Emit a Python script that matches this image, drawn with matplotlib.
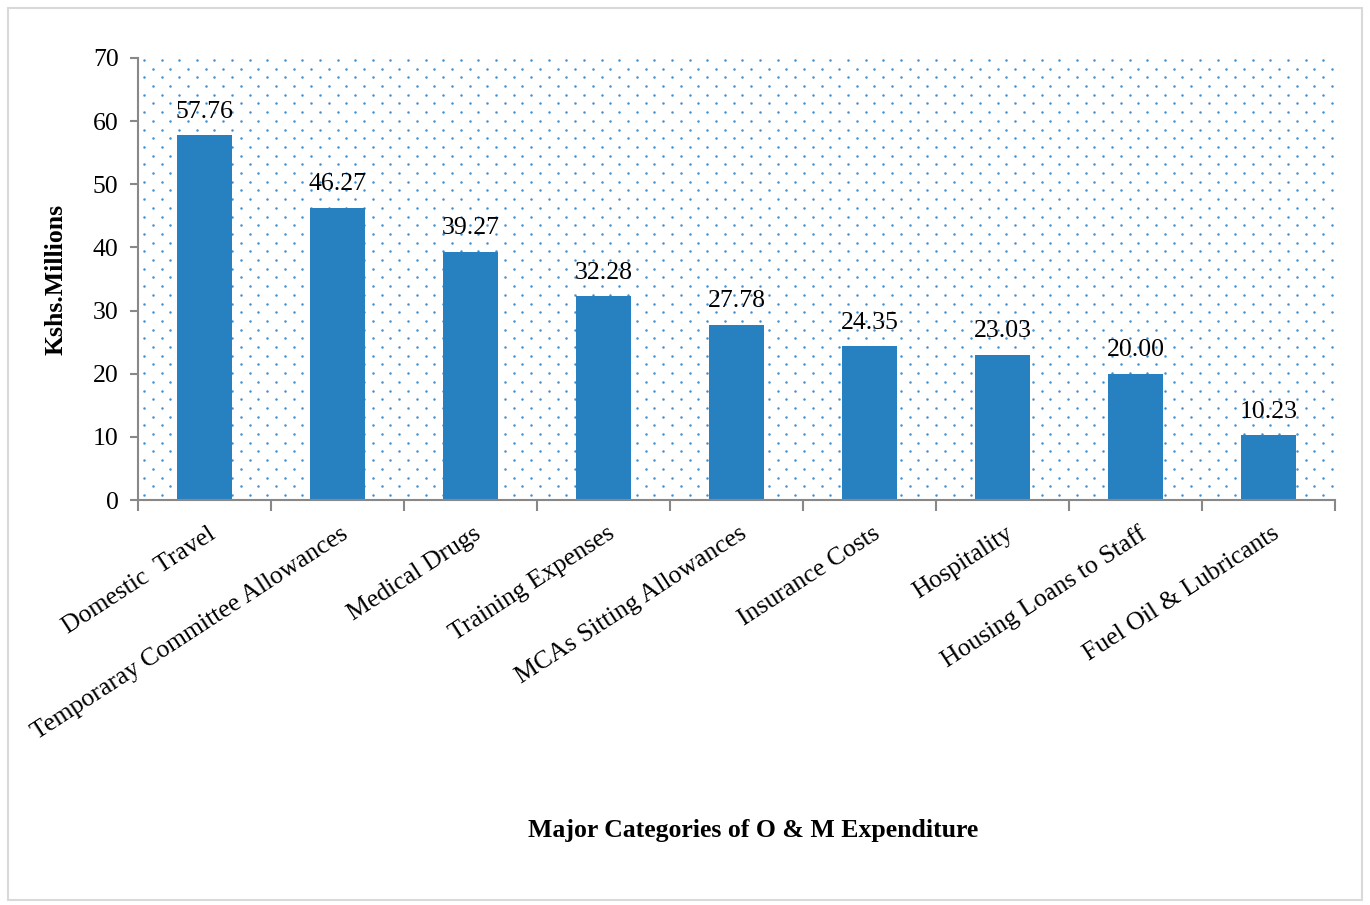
import matplotlib.pyplot as plt
from matplotlib.patches import Rectangle
import numpy as np

categories = ['Domestic  Travel', 'Temporaray Committee Allowances', 'Medical Drugs',
              'Training Expenses', 'MCAs Sitting Allowances', 'Insurance Costs',
              'Hospitality', 'Housing Loans to Staff', 'Fuel Oil & Lubricants']
values = [57.76, 46.27, 39.27, 32.28, 27.78, 24.35, 23.03, 20.00, 10.23]
y_ticks = [0, 10, 20, 30, 40, 50, 60, 70]

plt.rcParams['font.family'] = ['Liberation Serif', 'DejaVu Serif']
FS = 18.5

fig = plt.figure(figsize=(13.7, 9.05), dpi=100)
ax_l, ax_r, ax_t, ax_b = 138, 1335, 58, 500
ax = fig.add_axes([ax_l / 1370, 1 - ax_b / 905, (ax_r - ax_l) / 1370, (ax_b - ax_t) / 905])

# outer chart border
fig.patches.append(Rectangle((8 / 1370, 5 / 905), 1354 / 1370, 892 / 905, transform=fig.transFigure,
                             fill=False, edgecolor='#d9d9d9', linewidth=1.5))

# dotted plot-area fill (staggered dot pattern, in pixel steps)
w_px, h_px = ax_r - ax_l, ax_b - ax_t
dx, dy = 17.6, 8.7
pts = []
for i, yy in enumerate(np.arange(2, h_px, dy)):
    off = 6 if i % 2 == 0 else 6 + dx / 2
    for xx in np.arange(off, w_px, dx):
        pts.append((xx / w_px, 1 - yy / h_px))
pts = np.array(pts)
ax.scatter(pts[:, 0], pts[:, 1], s=3.2, color='#3f8fd0', linewidths=0,
           transform=ax.transAxes, zorder=0, clip_on=True)

x = np.arange(len(categories))
ax.bar(x, values, width=0.41, color='#2780c0', zorder=2)
for xi, v in zip(x, values):
    ax.text(xi, v + 2.0, f'{v:.2f}', ha='center', va='bottom', fontsize=FS)

ax.set_xlim(-0.5, len(categories) - 0.5)
ax.set_ylim(0, 70)
ax.set_yticks(y_ticks)
ax.tick_params(axis='y', labelsize=FS, length=6, color='#888888', width=1.5, pad=8)
ax.set_xticks(np.arange(len(categories) + 1) - 0.5)
ax.set_xticklabels([])
ax.tick_params(axis='x', length=8, color='#888888', width=1.5)
for xi, lab in zip(x, categories):
    ax.text(xi + 0.02, -3.6, lab, rotation=33, ha='right', va='top', fontsize=FS,
            rotation_mode='anchor')

for s in ['top', 'right']:
    ax.spines[s].set_visible(False)
for s in ['left', 'bottom']:
    ax.spines[s].set_color('#888888')
    ax.spines[s].set_linewidth(1.5)

ax.set_ylabel('Kshs.Millions', fontsize=FS, fontweight='bold', labelpad=18)
fig.text(753 / 1370, 1 - 830 / 905, 'Major Categories of O & M Expenditure', ha='center', va='center',
         fontsize=FS, fontweight='bold')

fig.savefig('out.png', dpi=100)
